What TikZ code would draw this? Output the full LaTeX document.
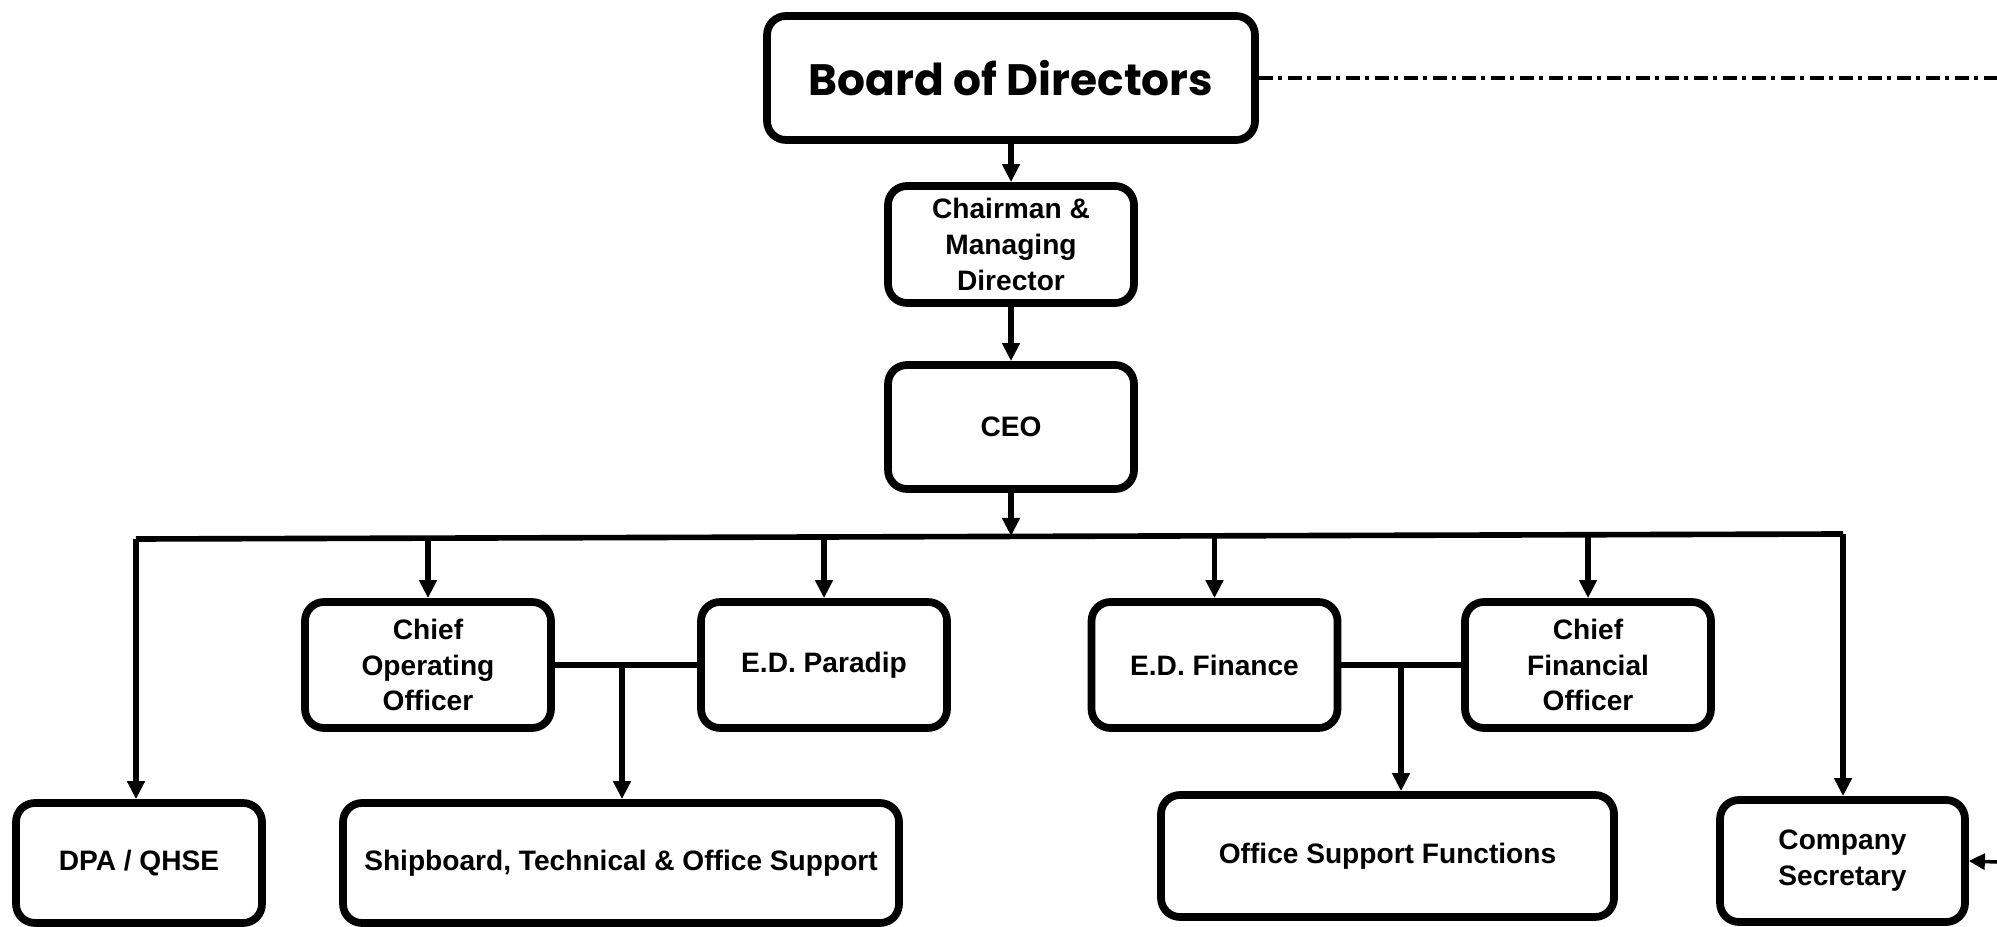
\documentclass[tikz,border=0pt]{standalone}
\usepackage{fontspec}
\setmainfont{Liberation Sans}
\newfontfamily\titlefont{Poppins}
\usetikzlibrary{arrows.meta}
\begin{document}
\begin{tikzpicture}[x=0.1mm,y=-0.1mm,
  box/.style={draw, line width=2.2pt, rounded corners=1.9mm, align=center,
    font=\bfseries\fontsize{8}{10.2}\selectfont, inner sep=0pt,
    minimum width=24.6mm, minimum height=12.4mm},
  link/.style={line width=1.6pt},
  arr/.style={link, -{Triangle[width=1.7mm,length=1.8mm]}},
  dashdot/.style={line width=1pt, dash pattern=on 1.4mm off 0.55mm on 0.4mm off 0.55mm}]
\useasboundingbox (0,0) rectangle (1997,927);
\node[box, minimum width=48.8mm, font=\titlefont\bfseries\fontsize{12.5}{14}\selectfont] (board) at (1011,78) {Board of Directors};
\node[box, minimum height=11.7mm] (chair) at (1011,244.5) {Chairman \&\\Managing\\Director};
\node[box] (ceo) at (1011,427) {CEO};
\node[box, minimum height=12.6mm] (coo) at (428,665) {Chief\\Operating\\Officer};
\node[box, minimum height=12.6mm] (edp) at (824,665) {E.D. Paradip};
\node[box, minimum height=12.6mm] (edf) at (1214.5,665) {E.D. Finance};
\node[box, minimum height=12.6mm] (cfo) at (1588,665) {Chief\\Financial\\Officer};
\node[box, minimum height=12.0mm] (dpa) at (139,863) {DPA / QHSE};
\node[box, minimum width=55.6mm, minimum height=12.0mm] (ship) at (621,863) {Shipboard, Technical \& Office Support};
\node[box, minimum width=45.3mm, minimum height=12.2mm] (osf) at (1387.5,856) {Office Support Functions};
\node[box, minimum width=24.5mm, minimum height=12.2mm] (cs) at (1842.5,861) {Company\\Secretary};
% bus
\coordinate (busC) at (1011,536);
\coordinate (b0) at (136,539);
\coordinate (b6) at (1843,534);
\draw[arr] (board.south) -- (chair.north);
\draw[arr] (chair.south) -- (ceo.north);
\draw[arr] (ceo.south) -- (busC);
\draw[link] (b0) -- (b6);
\draw[arr] (b0) -- (b0 |- dpa.north);
\draw[arr] (b6) -- (b6 |- cs.north);
\draw[arr] (coo.north |- busC) -- (coo.north);
\draw[arr] (edp.north |- busC) -- (edp.north);
\draw[arr] (edf.north |- busC) -- (edf.north);
\draw[arr] (cfo.north |- busC) -- (cfo.north);
% side links
\coordinate (j1) at (622,665);
\coordinate (j2) at (1401,665);
\draw[link] (coo.east) -- (edp.west);
\draw[link] (edf.east) -- (cfo.west);
\draw[arr] (j1) -- (j1 |- ship.north);
\draw[arr] (j2) -- (j2 |- osf.north);
% dash-dot links
\coordinate (edgeT) at (1997,78);
\coordinate (edgeC) at (1997,862);
\draw[dashdot] (board.east) -- (edgeT);
\draw[dashdot, -{Triangle[width=1.6mm,length=1.6mm]}] (edgeC) -- (cs.east);
\end{tikzpicture}
\end{document}
